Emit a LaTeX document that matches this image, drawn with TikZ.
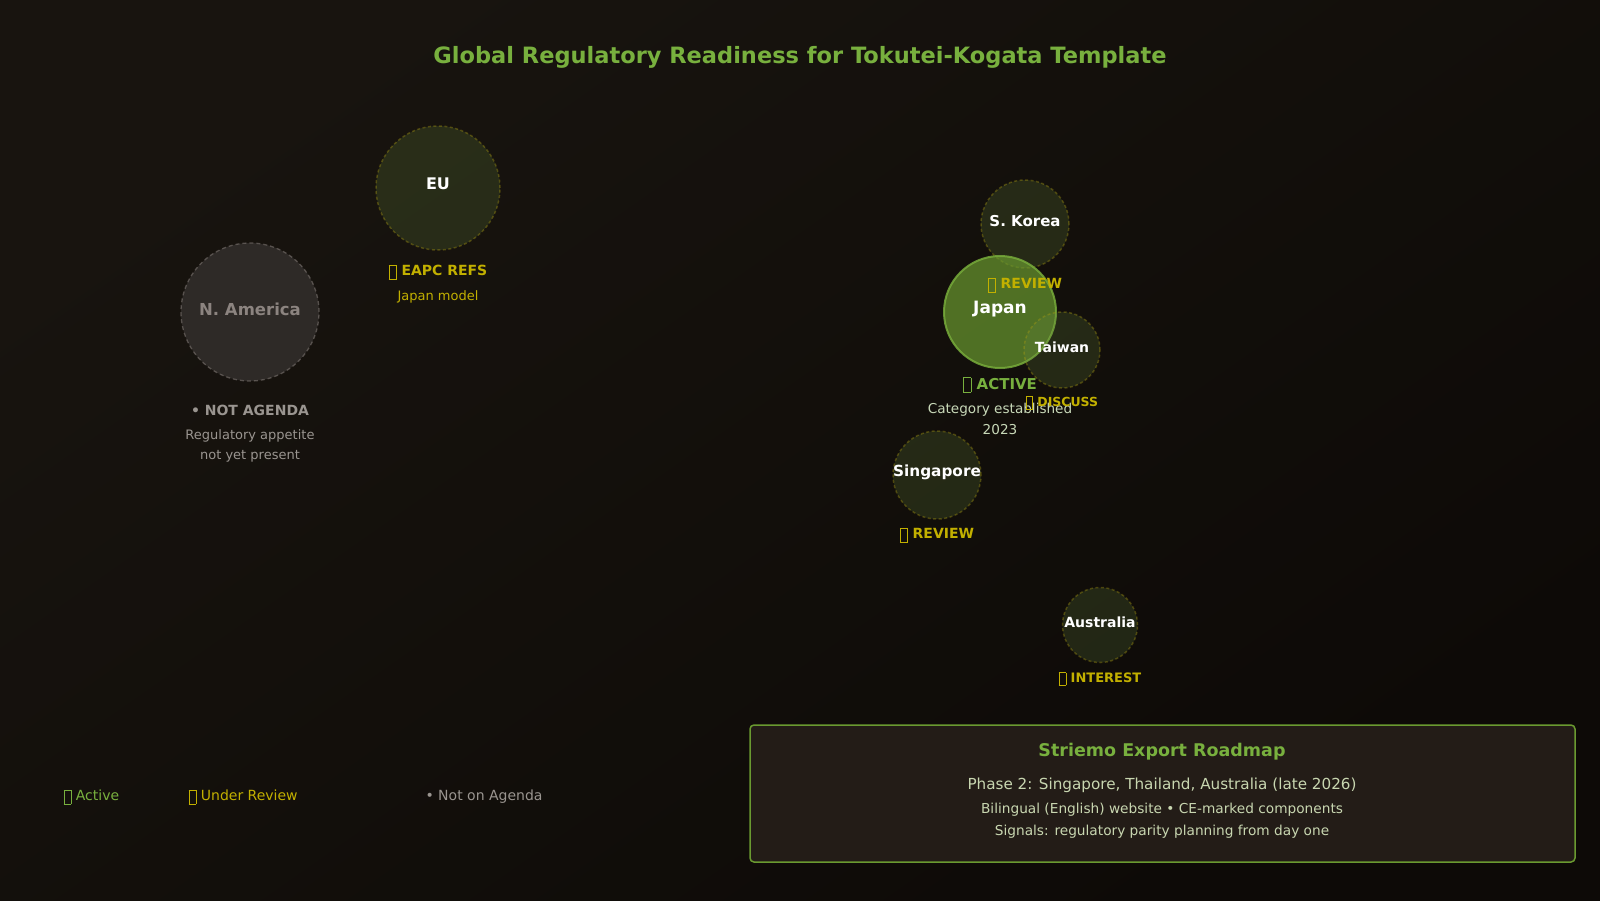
\documentclass[tikz,border=0pt]{standalone}
\usepackage{fontspec}
\setmainfont{DejaVu Sans}
\usetikzlibrary{shadings}
\definecolor{bgA}{HTML}{18140F}
\definecolor{bgB}{HTML}{0D0A07}
\definecolor{tgreen}{HTML}{78B03E}
\definecolor{tyellow}{HTML}{C2B000}
\definecolor{tgray}{HTML}{9A9590}
\definecolor{nagray}{HTML}{8C8480}
\definecolor{nafill}{HTML}{2E2A27}
\definecolor{olivefill}{HTML}{6A8A40}
\definecolor{olivedash}{HTML}{B0A010}
\definecolor{japfill}{HTML}{6A9A30}
\definecolor{japline}{HTML}{7AB03C}
\definecolor{subgreen}{HTML}{C8D8B8}
\definecolor{boxfill}{HTML}{231C17}
\definecolor{boxline}{HTML}{6A9A30}
\definecolor{boxtext}{HTML}{C8D6B0}
\newcommand\tofu{{\setlength{\fboxsep}{0pt}\setlength{\fboxrule}{0.6pt}\raisebox{-0.2em}{\fbox{\rule{0pt}{0.95em}\hspace{0.48em}}}}}
\newcommand\fs[1]{\fontsize{#1}{#1}\selectfont}
\tikzset{
  region/.style={circle, inner sep=0pt, draw=olivedash, draw opacity=0.35, dashed, dash pattern=on 3pt off 2.5pt, line width=1.5pt, fill=olivefill, fill opacity=0.22},
  cname/.style={text=white, font=\bfseries\fs{15}},
  stat/.style={text=tyellow, font=\bfseries\fs{14}},
  sub/.style={text=tyellow, font=\fs{13}},
}
\begin{document}
\begin{tikzpicture}[x=1pt,y=-1pt]
\useasboundingbox (0,0) rectangle (1600,900);
\shade[shading=axis, top color=bgA, bottom color=bgB, shading angle=35] (0,0) rectangle (1600,900);

\node[text=tgreen, font=\bfseries\fs{22.5}] (title) at (800,57) {Global Regulatory Readiness for Tokutei-Kogata Template};

% EU
\node[region, minimum size=124pt] (eu) at (438,188) {};
\node[cname, font=\bfseries\fs{16}] (eul) at (438,184) {EU};
\node[stat] (eus) at (438,272) {\tofu\ EAPC REFS};
\node[sub] (eusub) at (438,297) {Japan model};

% N. America
\node[circle, inner sep=0pt, minimum size=138pt, draw=nagray, draw opacity=0.5, dashed, dash pattern=on 4pt off 3pt, line width=1.3pt, fill=nafill] (na) at (250,312) {};
\node[text=nagray, font=\bfseries\fs{16.5}] (nal) at (250,309) {N. America};
\node[text=tgray, font=\bfseries\fs{14}] (nas) at (250,410) {\textbullet\ NOT AGENDA};
\node[text=tgray, font=\fs{13}] (nas1) at (250,436) {Regulatory appetite};
\node[text=tgray, font=\fs{13}] (nas2) at (250,456) {not yet present};

% S. Korea
\node[region, minimum size=88pt] (kr) at (1025,224) {};
% Japan
\node[circle, inner sep=0pt, minimum size=112pt, draw=japline, draw opacity=0.8, line width=2pt, fill=japfill, fill opacity=0.7] (jp) at (1000,312) {};
% Taiwan
\node[region, minimum size=76pt] (tw) at (1062,350) {};

\node[cname] (krl) at (1025,221) {S. Korea};
\node[stat] (krs) at (1025,285) {\tofu\ REVIEW};
\node[cname, font=\bfseries\fs{17}] (jpl) at (1000,309) {Japan};
\node[cname, font=\bfseries\fs{14}] (twl) at (1062,347) {Taiwan};
\node[text=tgreen, font=\bfseries\fs{15}] (jps) at (1000,385) {\tofu\ ACTIVE};
\node[text=subgreen, font=\fs{13.6}] (jps1) at (1000,410) {Category established};
\node[text=subgreen, font=\fs{13.6}] (jps2) at (1000,430) {2023};
\node[stat, font=\bfseries\fs{12.5}] (tws) at (1062,403) {\tofu\ DISCUSS};

% Singapore
\node[region, minimum size=88pt] (sg) at (937,475) {};
\node[cname, font=\bfseries\fs{15.3}] (sgl) at (937,472) {Singapore};
\node[stat] (sgs) at (937,535) {\tofu\ REVIEW};

% Australia
\node[region, minimum size=75pt] (au) at (1100,625) {};
\node[cname, font=\bfseries\fs{14}] (aul) at (1100,622) {Australia};
\node[stat, font=\bfseries\fs{13}] (aus) at (1100,679) {\tofu\ INTEREST};

% Legend
\node[text=tgreen, font=\fs{14}, anchor=west] (lg1) at (60,797) {\tofu\ Active};
\node[text=tyellow, font=\fs{14}, anchor=west] (lg2) at (185,797) {\tofu\ Under Review};
\node[text=tgray, font=\fs{14}, anchor=west] (lg3) at (422,797) {\textbullet\ Not on Agenda};

% Roadmap box
\node[draw=boxline, line width=1.5pt, fill=boxfill, rounded corners=4pt, minimum width=825pt, minimum height=137pt, inner sep=0pt] (rm) at (1162.5,793.5) {};
\node[text=tgreen, font=\bfseries\fs{17.5}] (rmt) at (1162,752) {Striemo Export Roadmap};
\node[text=boxtext, font=\fs{15.2}] (rm1) at (1162,785) {Phase 2: Singapore, Thailand, Australia (late 2026)};
\node[text=boxtext, font=\fs{13.7}] (rm2) at (1162,810) {Bilingual (English) website \textbullet\ CE-marked components};
\node[text=boxtext, font=\fs{13.7}] (rm3) at (1162,832) {Signals: regulatory parity planning from day one};
\end{tikzpicture}
\end{document}
